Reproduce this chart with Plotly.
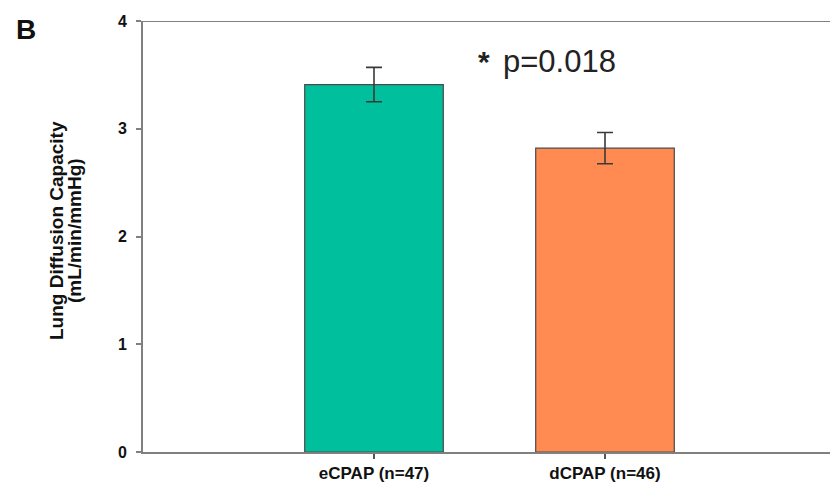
import plotly.graph_objects as go

categories = ["eCPAP (n=47)", "dCPAP (n=46)"]
means = [3.41, 2.82]
errors = [0.16, 0.145]
colors = ["#00BF9C", "#FF8A52"]
y_ticks = [0, 1, 2, 3, 4]

# plot area spans pixels x 143..830, y 21..452
L, R, T, B = 143, 0, 21, 36
W, H = 830, 488
PW, PH = W - L - R, H - T - B

def px_x(X):
    return (X - L) / PW

def px_y(Y):
    return (H - B - Y) / PH

fig = go.Figure()
fig.add_trace(go.Bar(
    x=[0, 1], y=means, width=0.6,
    marker=dict(color=colors, line=dict(color="#4a4a4a", width=1.2)),
    error_y=dict(type="data", array=errors, visible=True, color="#3a3a3a", thickness=1.6, width=8),
    showlegend=False,
))

fam = "Liberation Sans, Arial"
fig.update_layout(
    width=W, height=H,
    margin=dict(l=L, r=R, t=T, b=B, autoexpand=False),
    plot_bgcolor="white", paper_bgcolor="white",
    font=dict(family=fam),
    xaxis=dict(
        range=[-1, 1.974], tickmode="array", tickvals=[0, 1], ticktext=categories,
        showline=True, linecolor="#808080", linewidth=2, automargin=False,
        ticks="outside", ticklen=5, tickcolor="#555555", tickwidth=1.5,
        ticklabelstandoff=0,
        tickfont=dict(family=fam, size=17, color="#111111", weight="bold"),
        showgrid=False, zeroline=False,
    ),
    yaxis=dict(
        range=[0, 4], tickmode="array", tickvals=y_ticks,
        showline=True, linecolor="#808080", linewidth=2, automargin=False,
        ticks="outside", ticklen=5, tickcolor="#808080", tickwidth=1.5,
        ticklabelstandoff=6,
        tickfont=dict(family=fam, size=16, color="#111111", weight="bold"),
        showgrid=False, zeroline=False,
    ),
)

fig.add_shape(type="line", xref="paper", yref="y", x0=0, x1=1, y0=4, y1=4,
              line=dict(color="#808080", width=2))

title_font = dict(family=fam, size=19, color="#111111", weight="bold")
fig.add_annotation(x=px_x(56), y=px_y(231), xref="paper", yref="paper",
                   text="Lung Diffusion Capacity", textangle=-90, showarrow=False,
                   xanchor="center", yanchor="middle", font=title_font)
fig.add_annotation(x=px_x(74), y=px_y(231), xref="paper", yref="paper",
                   text="(mL/min/mmHg)", textangle=-90, showarrow=False,
                   xanchor="center", yanchor="middle", font=title_font)

fig.add_annotation(x=0.44, y=3.62, xref="x", yref="y", text="<b>*</b>",
                   showarrow=False, xanchor="left", yanchor="middle",
                   font=dict(family=fam, size=30, color="#222222"))
fig.add_annotation(x=0.55, y=3.62, xref="x", yref="y", text="p=0.018",
                   showarrow=False, xanchor="left", yanchor="middle",
                   font=dict(family=fam, size=31, color="#222222"))
fig.add_annotation(x=px_x(14), y=px_y(30), xref="paper", yref="paper", text="<b>B</b>",
                   showarrow=False, xanchor="left", yanchor="middle",
                   font=dict(family=fam, size=28, color="#111111"))

fig.write_html("out.html", config={"displayModeBar": False},
               post_script="document.body.style.margin='0';document.body.style.overflow='hidden';document.documentElement.style.overflow='hidden';")
